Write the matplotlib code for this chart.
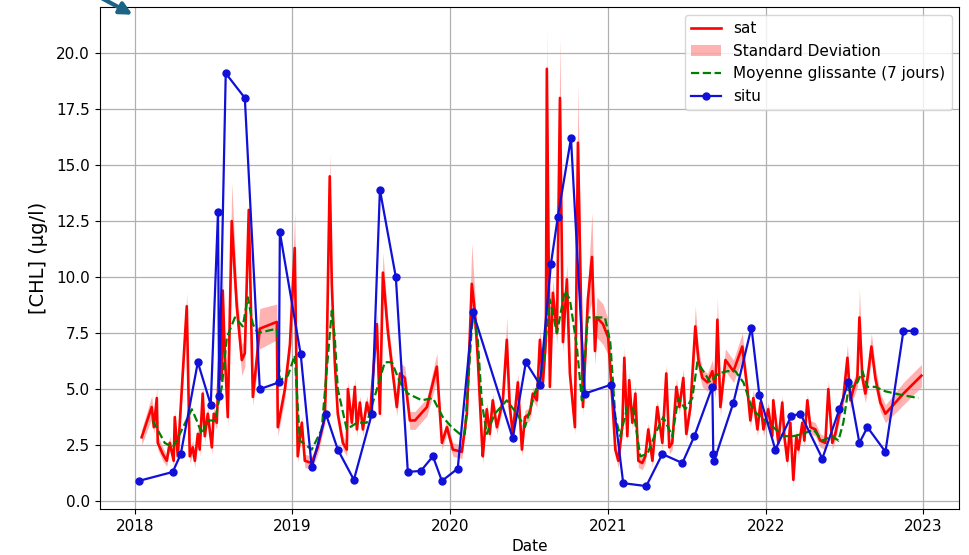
# %%
import numpy as np
import pandas as pd
import matplotlib
matplotlib.use('Agg')
import matplotlib.pyplot as plt
import matplotlib.dates as mdates
from matplotlib.patches import FancyArrowPatch

# %%
# Satellite CHL (decimal year, value, standard deviation)
sat_t = [2018.044, 2018.108, 2018.121, 2018.140, 2018.146, 2018.178, 2018.203, 2018.222,
         2018.247, 2018.254, 2018.273, 2018.330, 2018.349, 2018.368, 2018.381, 2018.400,
         2018.412, 2018.431, 2018.444, 2018.463, 2018.489, 2018.501, 2018.520, 2018.539,
         2018.552, 2018.558, 2018.571, 2018.590, 2018.615, 2018.647, 2018.679, 2018.698,
         2018.723, 2018.749, 2018.793, 2018.901, 2018.907, 2018.952, 2018.984, 2019.015,
         2019.034, 2019.060, 2019.079, 2019.123, 2019.161, 2019.206, 2019.218, 2019.237,
         2019.250, 2019.269, 2019.288, 2019.320, 2019.345, 2019.352, 2019.377, 2019.396,
         2019.409, 2019.428, 2019.447, 2019.472, 2019.491, 2019.536, 2019.555, 2019.574,
         2019.605, 2019.662, 2019.682, 2019.713, 2019.745, 2019.777, 2019.853, 2019.916,
         2019.948, 2019.980, 2020.018, 2020.075, 2020.107, 2020.138, 2020.157, 2020.176,
         2020.202, 2020.208, 2020.233, 2020.252, 2020.271, 2020.297, 2020.316, 2020.335,
         2020.360, 2020.379, 2020.398, 2020.430, 2020.456, 2020.475, 2020.506, 2020.525,
         2020.551, 2020.570, 2020.589, 2020.608, 2020.614, 2020.633, 2020.652, 2020.678,
         2020.697, 2020.716, 2020.741, 2020.760, 2020.792, 2020.811, 2020.843, 2020.874,
         2020.900, 2020.919, 2020.931, 2020.970, 2021.001, 2021.027, 2021.046, 2021.065,
         2021.090, 2021.103, 2021.122, 2021.134, 2021.154, 2021.173, 2021.192, 2021.217,
         2021.236, 2021.255, 2021.281, 2021.312, 2021.344, 2021.369, 2021.388, 2021.407,
         2021.433, 2021.452, 2021.477, 2021.496, 2021.522, 2021.553, 2021.573, 2021.598,
         2021.630, 2021.661, 2021.680, 2021.693, 2021.712, 2021.744, 2021.795, 2021.851,
         2021.883, 2021.902, 2021.921, 2021.947, 2021.966, 2021.985, 2022.016, 2022.042,
         2022.048, 2022.080, 2022.105, 2022.118, 2022.137, 2022.156, 2022.175, 2022.194,
         2022.207, 2022.232, 2022.245, 2022.264, 2022.283, 2022.315, 2022.346, 2022.378,
         2022.397, 2022.422, 2022.441, 2022.473, 2022.492, 2022.518, 2022.537, 2022.556,
         2022.581, 2022.594, 2022.613, 2022.632, 2022.651, 2022.670, 2022.695, 2022.727,
         2022.759, 2022.873, 2022.987]
sat_v = [2.85, 4.2, 3.3, 4.6, 2.6, 2.1, 1.8, 2.6,
         1.8, 3.75, 2.0, 8.7, 2.0, 2.4, 1.8, 3.0,
         2.3, 4.8, 2.9, 3.9, 2.4, 3.9, 3.5, 6.9,
         5.4, 9.4, 6.6, 3.75, 12.5, 8.7, 6.3, 6.6,
         13.0, 4.65, 7.7, 8.0, 3.3, 5.0, 7.0, 11.3,
         2.0, 3.5, 1.8, 1.7, 2.4, 3.75, 6.6, 14.5,
         9.7, 6.2, 3.9, 2.6, 2.3, 5.0, 3.5, 5.1,
         3.2, 4.4, 3.2, 4.4, 3.75, 7.9, 3.9, 10.2,
         7.6, 4.2, 5.7, 5.5, 3.6, 3.6, 4.2, 6.0,
         2.6, 3.3, 2.3, 2.2, 3.9, 9.7, 8.5, 6.4,
         2.7, 2.0, 4.1, 3.0, 4.5, 3.3, 3.9, 4.5,
         7.2, 4.2, 3.0, 5.3, 2.3, 3.75, 3.9, 4.8,
         4.5, 7.2, 5.3, 7.2, 19.3, 5.1, 9.3, 7.5,
         18.0, 7.1, 9.9, 5.7, 3.3, 16.0, 4.2, 9.0,
         10.9, 6.7, 8.2, 7.9, 7.3, 4.5, 2.3, 1.8,
         3.3, 6.4, 2.9, 5.4, 3.5, 4.8, 1.8, 1.7,
         2.0, 3.2, 1.8, 4.2, 2.6, 5.7, 2.4, 2.6,
         5.1, 4.2, 5.5, 3.0, 4.2, 7.8, 6.3, 5.5,
         5.3, 5.8, 5.0, 8.1, 4.2, 6.3, 5.8, 6.9,
         5.0, 3.6, 4.6, 3.2, 4.4, 3.2, 4.1, 2.9,
         4.5, 2.6, 4.4, 2.9, 1.8, 3.5, 0.95, 2.9,
         2.3, 3.5, 2.7, 4.5, 3.3, 3.2, 2.7, 2.6,
         5.0, 2.6, 3.0, 4.1, 4.6, 6.4, 4.5, 5.0,
         5.5, 8.2, 5.5, 4.8, 5.8, 6.9, 5.5, 4.4,
         3.9, 4.8, 5.6]
sat_std = [0.35, 0.5, 0.3, 0.5, 0.3, 0.3, 0.25, 0.3,
           0.25, 0.3, 0.3, 0.6, 0.3, 0.3, 0.3, 0.3,
           0.3, 0.4, 0.3, 0.3, 0.3, 0.3, 0.3, 0.5,
           0.4, 0.7, 0.5, 0.4, 1.7, 0.8, 0.7, 0.6,
           0.5, 0.4, 0.9, 0.8, 0.4, 0.4, 0.5, 1.6,
           0.3, 0.3, 0.3, 0.3, 0.3, 0.3, 0.5, 1.0,
           0.6, 0.4, 0.3, 0.3, 0.3, 0.4, 0.3, 0.4,
           0.3, 0.3, 0.3, 0.3, 0.3, 0.5, 0.3, 0.9,
           0.6, 0.4, 0.5, 0.5, 0.4, 0.4, 0.4, 0.6,
           0.3, 0.3, 0.3, 0.3, 0.3, 1.8, 0.8, 0.5,
           0.3, 0.3, 0.3, 0.3, 0.3, 0.3, 0.3, 0.3,
           1.0, 0.3, 0.3, 0.4, 0.3, 0.3, 0.3, 0.3,
           0.3, 0.5, 0.4, 0.5, 1.8, 0.4, 0.6, 0.5,
           2.7, 0.5, 0.7, 0.4, 0.3, 2.6, 0.4, 0.7,
           2.0, 0.6, 0.9, 0.9, 0.8, 0.4, 0.3, 0.3,
           0.3, 0.5, 0.3, 0.4, 0.3, 0.4, 0.3, 0.3,
           0.3, 0.3, 0.3, 0.3, 0.3, 0.4, 0.3, 0.3,
           0.4, 0.3, 0.4, 0.3, 0.3, 0.9, 0.5, 0.4,
           0.4, 0.5, 0.4, 1.0, 0.4, 0.5, 0.5, 0.6,
           0.4, 0.3, 0.4, 0.3, 0.3, 0.3, 0.3, 0.3,
           0.3, 0.3, 0.3, 0.3, 0.3, 0.3, 0.3, 0.3,
           0.3, 0.3, 0.3, 0.3, 0.3, 0.3, 0.3, 0.3,
           0.4, 0.3, 0.3, 0.3, 0.4, 0.6, 0.4, 0.4,
           0.4, 1.3, 0.5, 0.4, 0.5, 0.6, 0.5, 0.4,
           0.4, 0.5, 0.5]

# 7-day running mean
roll_t = [2018.114, 2018.190, 2018.241, 2018.286, 2018.362, 2018.393, 2018.425, 2018.463,
          2018.508, 2018.552, 2018.584, 2018.635, 2018.685, 2018.717, 2018.749, 2018.780,
          2018.901, 2018.920, 2018.971, 2019.015, 2019.047, 2019.123, 2019.186, 2019.250,
          2019.269, 2019.288, 2019.345, 2019.409, 2019.472, 2019.536, 2019.586, 2019.631,
          2019.682, 2019.732, 2019.821, 2019.891, 2019.954, 2020.011, 2020.062, 2020.094,
          2020.145, 2020.176, 2020.202, 2020.233, 2020.284, 2020.360, 2020.392, 2020.424,
          2020.475, 2020.525, 2020.589, 2020.633, 2020.678, 2020.728, 2020.760, 2020.804,
          2020.836, 2020.874, 2020.931, 2020.982, 2021.014, 2021.046, 2021.077, 2021.122,
          2021.160, 2021.204, 2021.249, 2021.299, 2021.350, 2021.407, 2021.445, 2021.490,
          2021.534, 2021.566, 2021.604, 2021.648, 2021.699, 2021.756, 2021.807, 2021.858,
          2021.915, 2021.966, 2022.016, 2022.048, 2022.111, 2022.175, 2022.238, 2022.302,
          2022.359, 2022.422, 2022.461, 2022.492, 2022.524, 2022.581, 2022.613, 2022.645,
          2022.695, 2022.759, 2022.854, 2022.968]
roll_v = [3.6, 2.6, 2.4, 3.0, 4.1, 3.6, 3.0, 3.6,
          3.6, 5.1, 7.3, 8.2, 7.8, 9.1, 7.9, 7.5,
          7.7, 5.4, 5.6, 6.5, 2.7, 2.3, 3.2, 8.5,
          7.3, 5.0, 3.2, 3.5, 3.5, 5.0, 6.2, 6.2,
          5.3, 4.8, 4.5, 4.6, 3.75, 3.3, 3.0, 3.0,
          8.5, 7.2, 4.4, 3.0, 3.9, 4.5, 4.2, 3.9,
          3.3, 4.5, 6.0, 9.0, 7.5, 9.4, 9.0, 6.9,
          4.5, 8.2, 8.2, 8.2, 7.1, 3.75, 2.9, 4.2,
          4.1, 2.0, 2.1, 3.0, 3.75, 2.9, 4.6, 4.1,
          4.6, 6.2, 5.8, 5.3, 5.7, 5.8, 5.8, 5.3,
          4.1, 3.75, 3.5, 3.3, 2.9, 2.9, 3.0, 3.2,
          2.7, 2.9, 2.7, 3.5, 5.0, 5.3, 5.8, 5.1,
          5.1, 4.9, 4.75, 4.6]

# In situ samples
situ_t = [2018.025, 2018.241, 2018.292, 2018.400, 2018.482, 2018.528, 2018.535, 2018.577,
          2018.698, 2018.793, 2018.914, 2018.920, 2019.053, 2019.123, 2019.212, 2019.288,
          2019.390, 2019.504, 2019.555, 2019.656, 2019.732, 2019.815, 2019.891, 2019.948,
          2020.049, 2020.145, 2020.398, 2020.481, 2020.570, 2020.640, 2020.684, 2020.767,
          2020.855, 2021.020, 2021.096, 2021.242, 2021.344, 2021.471, 2021.547, 2021.661,
          2021.667, 2021.673, 2021.795, 2021.909, 2021.959, 2022.061, 2022.162, 2022.220,
          2022.359, 2022.467, 2022.524, 2022.594, 2022.645, 2022.759, 2022.873, 2022.943]
situ_v = [0.9, 1.3, 2.1, 6.2, 4.3, 12.9, 4.7, 19.1,
          18.0, 5.0, 5.3, 12.0, 6.55, 1.5, 3.9, 2.3,
          0.95, 3.9, 13.9, 10.0, 1.3, 1.35, 2.0, 0.9,
          1.45, 8.45, 2.8, 6.2, 5.2, 10.6, 12.7, 16.2,
          4.8, 5.2, 0.8, 0.67, 2.1, 1.7, 2.9, 5.1,
          2.1, 1.8, 4.4, 7.75, 4.75, 2.3, 3.8, 3.9,
          1.9, 4.1, 5.3, 2.6, 3.3, 2.2, 7.6, 7.6]


def to_date(t):
    t = np.asarray(t)
    year = np.floor(t).astype(int)
    start = pd.to_datetime([f'{y}-01-01' for y in year])
    return start + pd.to_timedelta((t - year) * 365.25, unit='D')


sat = pd.DataFrame({'chl': sat_v, 'std': sat_std}, index=to_date(sat_t))
roll = pd.Series(roll_v, index=to_date(roll_t))
situ = pd.Series(situ_v, index=to_date(situ_t))

# %%
fig = plt.figure(figsize=(9.69, 5.55), dpi=100)
ax = fig.add_axes([0.103, 0.083, 0.887, 0.904])

ax.plot(sat.index, sat['chl'], color='red', lw=1.9, label='sat')
ax.fill_between(sat.index, sat['chl'] - sat['std'], sat['chl'] + sat['std'],
                color='red', alpha=0.3, lw=0, label='Standard Deviation')
ax.plot(roll.index, roll.values, color='green', ls='--', lw=1.6,
        label='Moyenne glissante (7 jours)')
ax.plot(situ.index, situ.values, color='#1010d8', marker='o', ms=5, lw=1.6, label='situ')

ax.set_xlim(to_date([2017.778])[0], to_date([2023.228])[0])
ax.set_ylim(-0.35, 22.05)
ax.set_yticks(np.arange(0, 20.1, 2.5))
ax.xaxis.set_major_locator(mdates.YearLocator())
ax.xaxis.set_major_formatter(mdates.DateFormatter('%Y'))
ax.tick_params(labelsize=11)
ax.grid(True, color='#b0b0b0', lw=0.9)
ax.set_xlabel('Date', fontsize=11, labelpad=4)
ax.set_ylabel('[CHL] (µg/l)', fontsize=14, labelpad=6)
ax.legend(loc='upper right', fontsize=11)

# arrow marker in the top left corner
fig.add_artist(FancyArrowPatch((100 / 969, 1.005), (135 / 969, 1 - 16 / 555),
                               transform=fig.transFigure, arrowstyle='-|>',
                               mutation_scale=18, lw=3, color='#1b6485'))

fig.savefig('out.png', dpi=100)
